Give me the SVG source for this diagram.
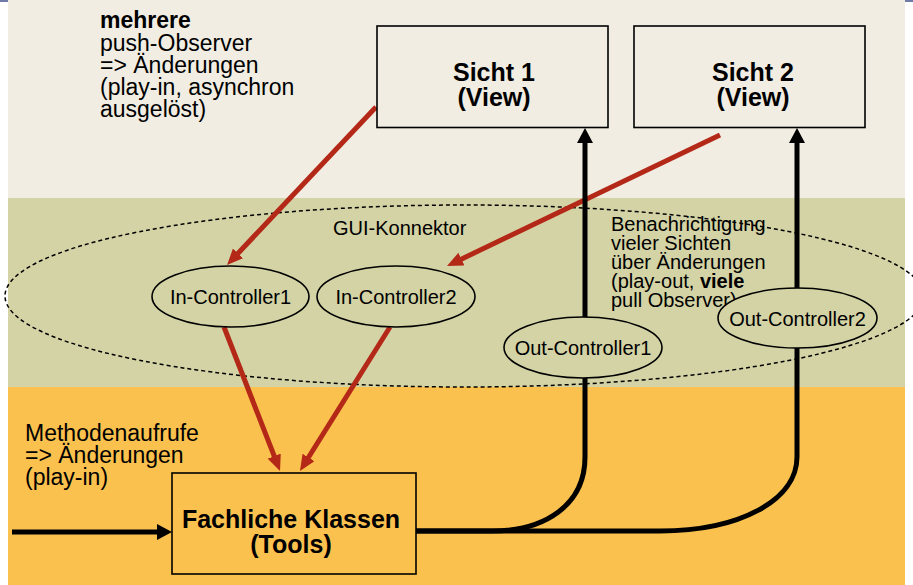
<svg xmlns="http://www.w3.org/2000/svg" width="913" height="585" viewBox="0 0 913 585">
<defs>
<style>
text{font-family:"Liberation Sans",Arial,sans-serif;fill:#000}
.t23{font-size:23px}
.t20{font-size:20px}
.bold{font-weight:bold}
.title{font-size:25px;font-weight:bold;text-anchor:middle}
.box{stroke:#000;stroke-width:1.6}
.node{fill:#D3D3A5;stroke:#000;stroke-width:1.6}
.red{fill:none;stroke:#B42818;stroke-width:5}
.blk{fill:none;stroke:#000;stroke-width:5}
.ctr{text-anchor:middle;font-size:20px}
</style>
<marker id="ar" viewBox="0 0 16 14" refX="6" refY="7" markerWidth="16" markerHeight="14" markerUnits="userSpaceOnUse" orient="auto"><path d="M0,0 L16,7 L0,14 z" fill="#B42818"/></marker>
<marker id="ab" viewBox="0 0 15 16" refX="5" refY="8" markerWidth="15" markerHeight="16" markerUnits="userSpaceOnUse" orient="auto"><path d="M0,0 L15,8 L0,16 z" fill="#000"/></marker>
</defs>
<rect x="0" y="0" width="913" height="585" fill="#fff"/>
<rect x="8" y="0" width="897" height="198" fill="#F1EDE3"/>
<rect x="8" y="198" width="897" height="189" fill="#D3D3A5"/>
<rect x="8" y="387" width="897" height="198" fill="#FBC14E"/>
<rect x="0" y="0" width="8" height="2" fill="#6E7AA8"/>
<rect x="905" y="0" width="8" height="2" fill="#6E7AA8"/>

<g id="gui-konnektor">
<ellipse cx="464.5" cy="296" rx="459.5" ry="91" fill="none" stroke="#000" stroke-width="1.5" stroke-dasharray="4 3"/>
<text class="t20" x="333" y="235">GUI-Konnektor</text>
</g>

<g id="connectors">
<line class="red" x1="376" y1="107" x2="233.9" y2="257.7" marker-end="url(#ar)"/>
<line class="red" x1="720" y1="135" x2="456" y2="261.7" marker-end="url(#ar)"/>
<line class="red" x1="224" y1="327" x2="276.4" y2="461.7" marker-end="url(#ar)"/>
<line class="red" x1="390" y1="327" x2="305.3" y2="462.5" marker-end="url(#ar)"/>
<path class="blk" d="M416 531 H492 C545 531 585 505 585 457 V138" marker-end="url(#ab)"/>
<path class="blk" d="M416 531 H660 C740 531 797 500 797 457 V138" marker-end="url(#ab)"/>
<path class="blk" d="M12 532 H162" marker-end="url(#ab)"/>
</g>

<g id="label-push">
<text class="t23" x="100"><tspan class="bold" x="100" y="28">mehrere</tspan><tspan x="100" y="51">push-Observer</tspan><tspan x="100" y="73">=&gt; Änderungen</tspan><tspan x="100" y="95">(play-in, asynchron</tspan><tspan x="100" y="117">ausgelöst)</tspan></text>
</g>
<g id="label-methoden">
<text class="t23"><tspan x="25" y="441">Methodenaufrufe</tspan><tspan x="25" y="463">=&gt; Änderungen</tspan><tspan x="25" y="485">(play-in)</tspan></text>
</g>
<g id="label-benachrichtigung">
<text class="t20"><tspan x="611" y="231">Benachrichtigung</tspan><tspan x="611" y="250">vieler Sichten</tspan><tspan x="611" y="269">über Änderungen</tspan><tspan x="611" y="288">(play-out, <tspan class="bold">viele</tspan></tspan><tspan x="611" y="307">pull Observer)</tspan></text>
</g>

<g id="sicht1">
<rect class="box" x="377" y="26" width="231" height="101.5" fill="#F1EDE3"/>
<text class="title" x="494" y="81">Sicht 1</text>
<text class="title" x="494" y="106">(View)</text>
</g>
<g id="sicht2">
<rect class="box" x="634" y="26" width="231" height="101.5" fill="#F1EDE3"/>
<text class="title" x="753" y="81">Sicht 2</text>
<text class="title" x="753" y="106">(View)</text>
</g>

<g id="in-controller1">
<ellipse class="node" cx="230.5" cy="296.5" rx="78.5" ry="30.5"/>
<text class="ctr" x="230.5" y="304">In-Controller1</text>
</g>
<g id="in-controller2">
<ellipse class="node" cx="396" cy="296.5" rx="79" ry="30.5"/>
<text class="ctr" x="396" y="304">In-Controller2</text>
</g>
<g id="out-controller1">
<ellipse class="node" cx="583" cy="347.5" rx="79" ry="30.5"/>
<text class="ctr" x="583" y="355">Out-Controller1</text>
</g>
<g id="out-controller2">
<ellipse class="node" cx="797.5" cy="318" rx="79.5" ry="30"/>
<text class="ctr" x="797.5" y="325.5">Out-Controller2</text>
</g>

<g id="fachliche-klassen">
<rect class="box" x="172" y="473" width="244" height="101" fill="#FBC14E"/>
<text class="title" x="291" y="528">Fachliche Klassen</text>
<text class="title" x="291" y="553">(Tools)</text>
</g>
</svg>
